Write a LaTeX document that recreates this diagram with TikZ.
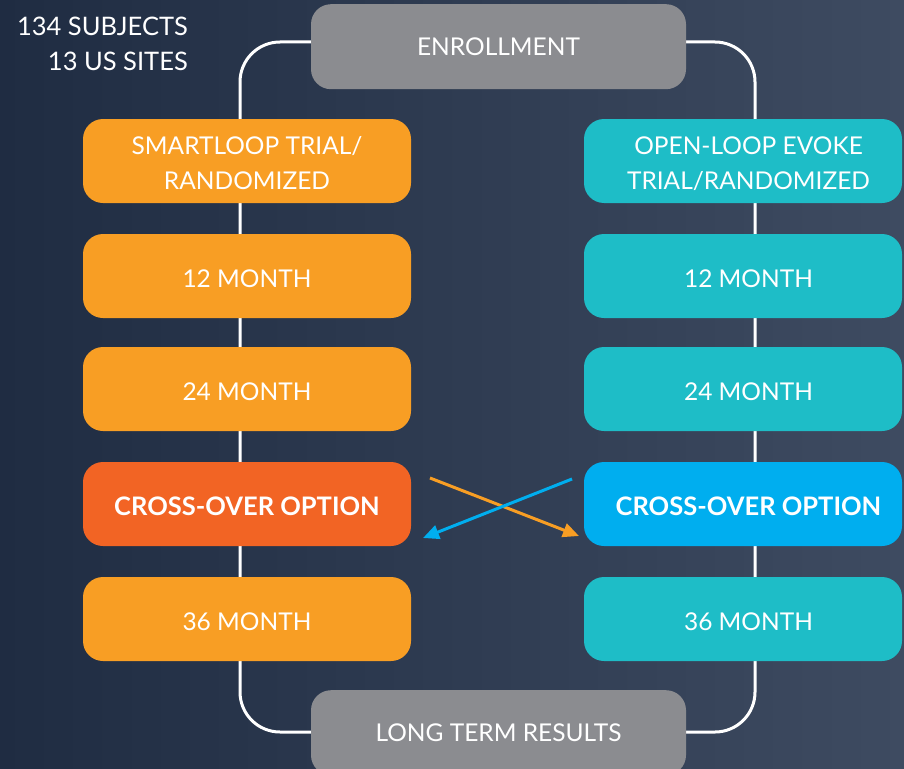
\documentclass[tikz,border=0pt]{standalone}
\usepackage{fontspec}
\setmainfont{Lato}
\usetikzlibrary{arrows.meta}
\definecolor{bgL}{RGB}{31,44,66}
\definecolor{bgR}{RGB}{62,75,97}
\definecolor{grey}{RGB}{139,140,144}
\definecolor{orng}{RGB}{248,158,36}
\definecolor{redo}{RGB}{242,100,36}
\definecolor{tealc}{RGB}{30,189,199}
\definecolor{sky}{RGB}{0,174,239}
\newcommand{\rsh}{\hspace*{11pt}}
\begin{document}
\begin{tikzpicture}[x=1pt,y=-1pt,
  box/.style={rounded corners=20pt, minimum height=84pt, text=white,
    font=\fontsize{24.5}{35}\selectfont, align=center, inner sep=0pt},
  one/.style={text height=22pt, text depth=0pt},
  two/.style={text height=57pt, text depth=0pt},
  lbox/.style={box, minimum width=328pt},
  rbox/.style={box, minimum width=318pt},
  gbox/.style={box, fill=grey, minimum width=375pt, minimum height=85pt},
  bold/.style={font=\fontsize{25.5}{35}\selectfont\bfseries},
  loopline/.style={draw=white, line width=3pt, rounded corners=40pt},
  xarrow/.style={line width=3pt, -{Triangle[length=16pt,width=14pt]}}
]
\useasboundingbox (0,0) rectangle (904,768);
\shade[left color=bgL, right color=bgR] (0,0) rectangle (904,768);

\coordinate (ltop) at (240,42);
\coordinate (rbot) at (755,732);
\draw[loopline] (ltop) rectangle (rbot);

\node[gbox, anchor=north] (enroll) at (498.5,4) {\raisebox{-3pt}{ENROLLMENT}};
\node[gbox, anchor=north] (results) at (498.5,690) {\raisebox{-5pt}{LONG TERM RESULTS}};

\node[anchor=north east, align=right, text=white, inner sep=0pt,
  font=\fontsize{25.5}{35}\selectfont] (info) at (188,17) {134 SUBJECTS\\13 US SITES};

\node[lbox, two, fill=orng] (l1) at (247,161) {SMARTLOOP TRIAL/\\RANDOMIZED};
\node[lbox, one, fill=orng] (l2) at (247,276) {12 MONTH};
\node[lbox, one, fill=orng] (l3) at (247,389) {24 MONTH};
\node[lbox, one, fill=redo, bold] (l4) at (247,504) {CROSS-OVER OPTION};
\node[lbox, one, fill=orng] (l5) at (247,619) {36 MONTH};

\node[rbox, two, fill=tealc] (r1) at (743,161) {\rsh OPEN-LOOP EVOKE\\\rsh TRIAL/RANDOMIZED};
\node[rbox, one, fill=tealc] (r2) at (743,276) {\rsh 12 MONTH};
\node[rbox, one, fill=tealc] (r3) at (743,389) {\rsh 24 MONTH};
\node[rbox, one, fill=sky, bold] (r4) at (743,504) {\rsh CROSS-OVER OPTION};
\node[rbox, one, fill=tealc] (r5) at (743,619) {\rsh 36 MONTH};

\coordinate (oa) at (430,478);
\coordinate (ob) at (579,536);
\coordinate (ba) at (572,479);
\coordinate (bb) at (423,538);
\draw[xarrow, draw=orng, fill=orng] (oa) -- (ob);
\draw[xarrow, draw=sky, fill=sky] (ba) -- (bb);
\end{tikzpicture}
\end{document}
